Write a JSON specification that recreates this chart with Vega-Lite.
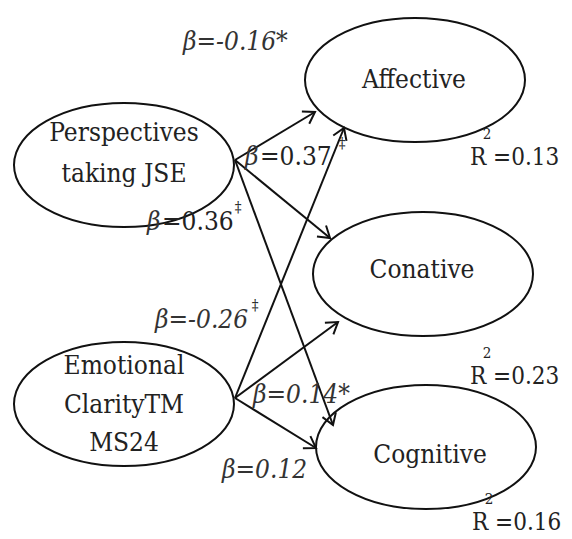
{
  "$schema": "https://vega.github.io/schema/vega-lite/v6.json",
  "width": 572,
  "height": 539,
  "autosize": {"type": "fit", "contains": "padding"},
  "padding": 0,
  "background": "white",
  "config": {"view": {"stroke": null}},
  "datasets": {
    "nodes": [
      {"node": "Affective", "x": 415, "y": 80},
      {"node": "Perspectives", "x": 124, "y": 165},
      {"node": "Conative", "x": 423, "y": 274},
      {"node": "Emotional", "x": 124, "y": 404},
      {"node": "Cognitive", "x": 426, "y": 447}
    ],
    "paths": [
      {"from": "Perspectives", "to": "Affective", "x": 235, "y": 160, "xe": 315, "ye": 112},
      {"from": "Perspectives", "to": "Conative", "x": 235, "y": 160, "xe": 330, "ye": 238},
      {"from": "Perspectives", "to": "Cognitive", "x": 235, "y": 160, "xe": 333, "ye": 425},
      {"from": "Emotional", "to": "Affective", "x": 235, "y": 398, "xe": 344, "ye": 128},
      {"from": "Emotional", "to": "Conative", "x": 235, "y": 398, "xe": 338, "ye": 322},
      {"from": "Emotional", "to": "Cognitive", "x": 235, "y": 398, "xe": 316, "ye": 448}
    ],
    "nodeText": [
      {"label": "Affective", "x": 414, "y": 80},
      {"label": "Perspectives", "x": 124, "y": 133},
      {"label": "taking JSE", "x": 124, "y": 174},
      {"label": "Conative", "x": 422, "y": 270},
      {"label": "Emotional", "x": 124, "y": 366},
      {"label": "ClarityTM", "x": 124, "y": 405},
      {"label": "MS24", "x": 124, "y": 443},
      {"label": "Cognitive", "x": 430, "y": 455}
    ],
    "italicText": [
      {"label": "β=-0.16*", "x": 183, "y": 42},
      {"label": "β", "x": 245, "y": 157},
      {"label": "β", "x": 147, "y": 222},
      {"label": "β=-0.26", "x": 155, "y": 320},
      {"label": "β=0.14*", "x": 253, "y": 395},
      {"label": "β=0.12", "x": 222, "y": 470}
    ],
    "uprightText": [
      {"label": "=0.37", "x": 260, "y": 157},
      {"label": "=0.36", "x": 162, "y": 222}
    ],
    "rText": [
      {"label": "R =0.13", "x": 470, "y": 158},
      {"label": "R =0.23", "x": 470, "y": 377},
      {"label": "R =0.16", "x": 472, "y": 523}
    ],
    "supText": [
      {"label": "‡", "x": 342, "y": 143},
      {"label": "‡", "x": 238, "y": 207},
      {"label": "‡", "x": 255, "y": 305},
      {"label": "2", "x": 487, "y": 134},
      {"label": "2", "x": 487, "y": 353},
      {"label": "2", "x": 489, "y": 499}
    ]
  },
  "encoding": {
    "x": {"field": "x", "type": "quantitative", "scale": {"domain": [0, 572], "nice": false, "zero": false}, "axis": null},
    "y": {"field": "y", "type": "quantitative", "scale": {"domain": [0, 539], "nice": false, "zero": false, "reverse": true}, "axis": null}
  },
  "layer": [
    {
      "data": {"name": "paths"},
      "mark": {"type": "rule", "stroke": "#111111", "strokeWidth": 2},
      "encoding": {
        "x2": {"field": "xe"},
        "y2": {"field": "ye"}
      }
    },
    {
      "data": {"name": "paths"},
      "transform": [
        {"calculate": "atan2(datum.ye - datum.y, datum.xe - datum.x) * 180 / PI", "as": "ang"}
      ],
      "mark": {"type": "point", "shape": "M-1,-0.65L0,0L-1,0.65", "size": 484, "filled": false, "stroke": "#111111", "strokeWidth": 2, "opacity": 1},
      "encoding": {
        "x": {"field": "xe", "type": "quantitative"},
        "y": {"field": "ye", "type": "quantitative"},
        "angle": {"field": "ang", "type": "quantitative", "scale": null}
      }
    },
    {
      "data": {"name": "nodes"},
      "mark": {"type": "point", "shape": "M-1,0C-1,-0.3113,-0.5523,-0.5636,0,-0.5636C0.5523,-0.5636,1,-0.3113,1,0C1,0.3113,0.5523,0.5636,0,0.5636C-0.5523,0.5636,-1,0.3113,-1,0Z", "size": 48400, "filled": false, "stroke": "#111111", "strokeWidth": 2, "opacity": 1}
    },
    {
      "data": {"name": "nodeText"},
      "mark": {"type": "text", "font": "DejaVu Serif Condensed", "fontSize": 26, "align": "center", "baseline": "middle", "color": "#222222"},
      "encoding": {"text": {"field": "label"}}
    },
    {
      "data": {"name": "italicText"},
      "mark": {"type": "text", "font": "DejaVu Serif Condensed", "fontStyle": "italic", "fontSize": 26, "align": "left", "baseline": "middle", "color": "#333333"},
      "encoding": {"text": {"field": "label"}}
    },
    {
      "data": {"name": "uprightText"},
      "mark": {"type": "text", "font": "DejaVu Serif Condensed", "fontSize": 26, "align": "left", "baseline": "middle", "color": "#222222"},
      "encoding": {"text": {"field": "label"}}
    },
    {
      "data": {"name": "rText"},
      "mark": {"type": "text", "font": "DejaVu Serif Condensed", "fontSize": 24, "align": "left", "baseline": "middle", "color": "#222222"},
      "encoding": {"text": {"field": "label"}}
    },
    {
      "data": {"name": "supText"},
      "mark": {"type": "text", "font": "DejaVu Serif Condensed", "fontSize": 15, "align": "center", "baseline": "middle", "color": "#222222"},
      "encoding": {"text": {"field": "label"}}
    }
  ]
}
